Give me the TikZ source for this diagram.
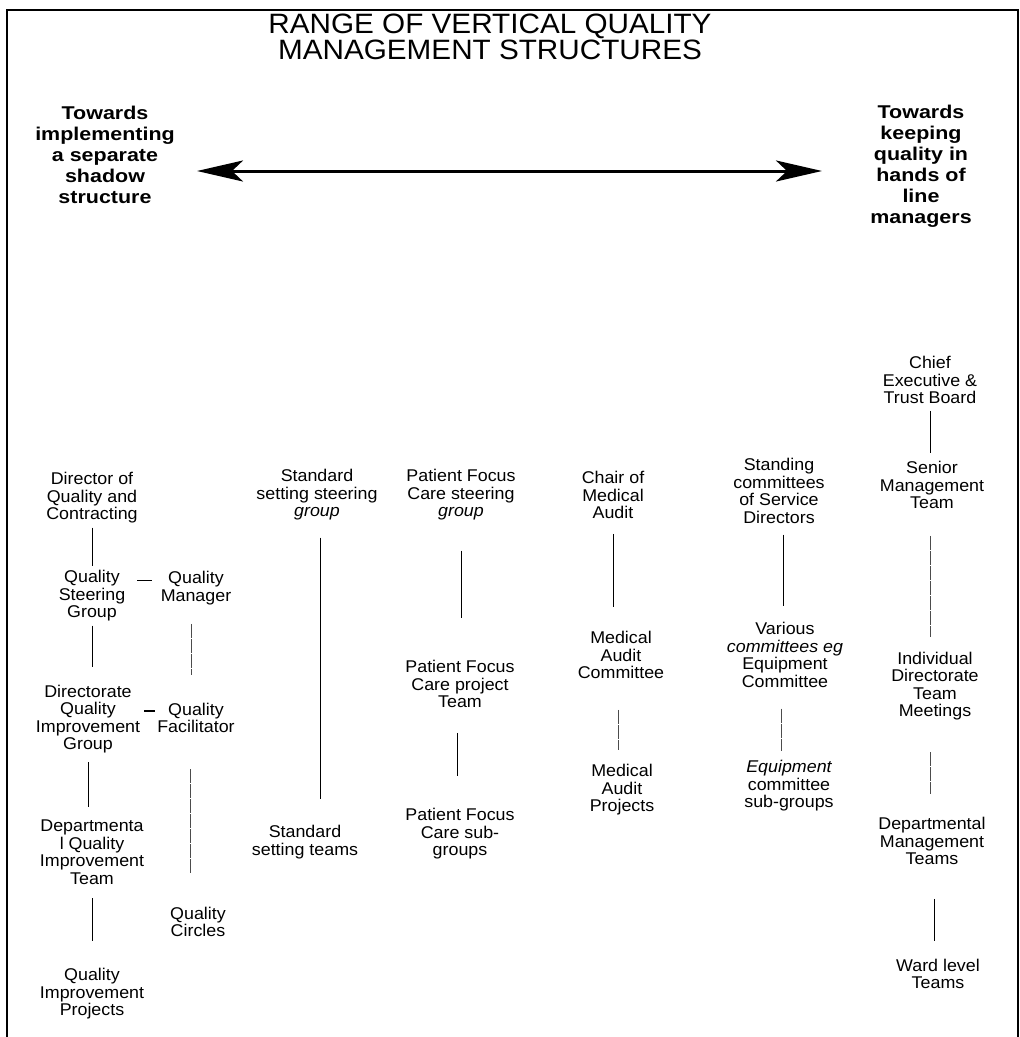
\documentclass[tikz,border=0pt]{standalone}
\usepackage{fontspec}
\setmainfont[FakeStretch=1.05]{Liberation Sans}
\newfontfamily\titlefont[FakeStretch=1.06]{Liberation Sans}
\newfontfamily\sidefont[FakeStretch=1.16]{Liberation Sans}
\usetikzlibrary{arrows.meta}

\begin{document}
\begin{tikzpicture}[x=1pt,y=-1pt,
    unit/.style={align=center,inner sep=0pt,font=\fontsize{17}{17.5}\selectfont},
    side/.style={align=center,inner sep=0pt,font=\sidefont\bfseries\fontsize{18.5}{21}\selectfont},
    link/.style={line width=0.8pt},
    weak/.style={line width=0.7pt,black!70,dash pattern=on 14pt off 1pt},
    bar/.style={line width=1.4pt},
    spread/.style={line width=3pt,{Stealth[length=46pt,width=21pt,inset=11pt]}-{Stealth[length=46pt,width=21pt,inset=11pt]}}]
    \useasboundingbox (0,0) rectangle (1020,1037);
    %% frame and title
    \draw[line width=2pt] (7,1037) -- (7,10) -- (1018,10) -- (1018,1037);
    \node[align=center,inner sep=0pt,font=\titlefont\fontsize{28}{26}\selectfont] (title) at (490,37) {RANGE OF VERTICAL QUALITY\\MANAGEMENT STRUCTURES};
    %% range arrow
    \node[side] (shadow) at (105,155) {Towards\\implementing\\a separate\\shadow\\structure};
    \node[side] (line) at (921,166) {Towards\\keeping\\quality in\\hands of\\line\\managers};
    \coordinate (left) at (197,171);
    \coordinate (right) at (822,171);
    \draw[spread] (left) -- (right);
    %% separate quality structure
    \node[unit] (dqc) at (92,498) {Director of\\Quality and\\Contracting};
    \node[unit] (qsg) at (92,596) {Quality\\Steering\\Group};
    \node[unit] (qm) at (196,588) {Quality\\Manager};
    \node[unit] (dqig) at (88,719) {Directorate\\Quality\\Improvement\\Group};
    \node[unit] (qf) at (196,718) {Quality\\Facilitator};
    \node[unit] (dqit) at (92,852) {Departmenta\\l Quality\\Improvement\\Team};
    \node[unit] (qc) at (198,922) {Quality\\Circles};
    \node[unit] (qip) at (92,994) {Quality\\Improvement\\Projects};
    \draw[link,shorten <=4pt,shorten >=4pt] (dqc.south) -- (dqc.south |- qsg.north);
    \draw[link,shorten <=4pt,shorten >=18pt] (qsg.south) -- (qsg.south |- dqig.north);
    \draw[link,shorten <=9pt,shorten >=13pt] (dqig.south) -- (dqig.south |- dqit.north);
    \draw[link,shorten <=14pt,shorten >=27pt] (dqit.south) -- (dqit.south |- qip.north);
    \draw[weak,shorten <=19pt,shorten >=28pt] ([xshift=-5pt]qm.south) -- ([xshift=-5pt]qm.south |- qf.north);
    \draw[weak,shorten <=36pt,shorten >=34pt] ([xshift=-6pt]qf.south) -- ([xshift=-6pt]qf.south |- qc.north);
    \draw[bar,shorten <=12pt,shorten >=9pt] ([yshift=-10pt]qsg.north east) -- ([yshift=-10pt]qsg.north east -| qm.west);
    \draw[bar,shorten <=4pt,shorten >=2pt] ([yshift=-8pt]dqig.east |- qf.north) -- ([yshift=-8pt]qf.north west);
    %% standard setting
    \node[unit] (sssg) at (317,495) {Standard\\setting steering\\{\itshape group}};
    \node[unit] (sst) at (305,842) {Standard\\setting teams};
    \draw[link,shorten <=17pt,shorten >=26pt] ([xshift=3pt]sssg.south) -- ([xshift=3pt]sssg.south |- sst.north);
    %% patient focus care
    \node[unit] (pfsg) at (461,495) {Patient Focus\\Care steering\\{\itshape group}};
    \node[unit] (pfpt) at (460,684) {Patient Focus\\Care project\\Team};
    \node[unit] (pfsub) at (460,834) {Patient Focus\\Care sub-\\groups};
    \draw[link,shorten <=30pt,shorten >=42pt] (pfsg.south) -- (pfsg.south |- pfpt.north);
    \draw[link,shorten <=25pt,shorten >=32pt] ([xshift=-3pt]pfpt.south) -- ([xshift=-3pt]pfpt.south |- pfsub.north);
    %% medical audit
    \node[unit] (cma) at (613,495) {Chair of\\Medical\\Audit};
    \node[unit] (mac) at (621,655) {Medical\\Audit\\Committee};
    \node[unit] (map) at (622,790) {Medical\\Audit\\Projects};
    \draw[link,shorten <=15pt,shorten >=24pt] (cma.south) -- (cma.south |- mac.north);
    \draw[weak,shorten <=31pt,shorten >=14pt] ([xshift=-3pt]mac.south) -- ([xshift=-3pt]mac.south |- map.north);
    %% service directors
    \node[unit] (scsd) at (779,491) {Standing\\committees\\of Service\\Directors};
    \node[unit] (vcee) at (785,655) {Various\\{\itshape committees eg}\\Equipment\\Committee};
    \node[unit] (ecsg) at (789,786) {{\itshape Equipment}\\committee\\sub-groups};
    \draw[link,shorten <=11pt,shorten >=16pt] ([xshift=4pt]scsd.south) -- ([xshift=4pt]scsd.south |- vcee.north);
    \draw[weak,shorten <=21pt,shorten >=9pt] ([xshift=-4pt]vcee.south) -- ([xshift=-4pt]vcee.south |- ecsg.north);
    %% line management
    \node[unit] (cetb) at (930,380) {Chief\\Executive \&\\Trust Board};
    \node[unit] (smt) at (932,485) {Senior\\Management\\Team};
    \node[unit] (idtm) at (935,686) {Individual\\Directorate\\Team\\Meetings};
    \node[unit] (dmt) at (932,841) {Departmental\\Management\\Teams};
    \node[unit] (wlt) at (938,974) {Ward level\\Teams};
    \draw[link,shorten <=7pt,shorten >=8pt] (cetb.south) -- (cetb.south |- smt.north);
    \draw[weak,shorten <=27pt,shorten >=15pt] ([xshift=-2pt]smt.south) -- ([xshift=-2pt]smt.south |- idtm.north);
    \draw[weak,shorten <=32pt,shorten >=23pt] ([xshift=-5pt]idtm.south) -- ([xshift=-5pt]idtm.south |- dmt.north);
    \draw[link,shorten <=34pt,shorten >=18pt] ([xshift=2pt]dmt.south) -- ([xshift=2pt]dmt.south |- wlt.north);
\end{tikzpicture}
\end{document}
